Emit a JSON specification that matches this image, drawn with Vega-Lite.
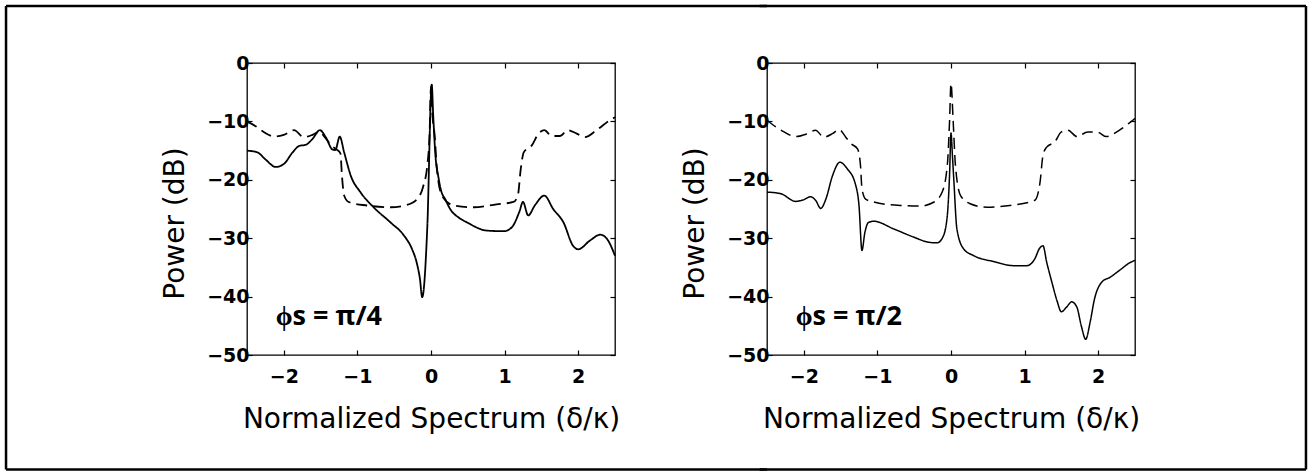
{
  "$schema": "https://vega.github.io/schema/vega-lite/v6.json",
  "background": "white",
  "padding": {"left": 4, "top": 4, "right": 2, "bottom": 2},
  "autosize": {"type": "pad"},
  "bounds": "flush",
  "spacing": 152,
  "config": {
    "view": {"stroke": "black", "strokeWidth": 1.3},
    "axis": {
      "domain": false, "grid": false,
      "tickColor": "black", "tickSize": -5, "tickWidth": 1.2,
      "labelFont": "DejaVu Sans", "labelFontWeight": "bold", "labelFontSize": 19, "labelColor": "black",
      "titleFont": "DejaVu Sans", "titleFontSize": 28, "titleFontWeight": "normal", "titleColor": "black"
    }
  },
  "datasets": {
    "curves": [
      {"p":"L","s":"solid","x":-2.5,"y":-15.0},{"p":"L","s":"solid","x":-2.36,"y":-15.3},{"p":"L","s":"solid","x":-2.25,"y":-16.5},{"p":"L","s":"solid","x":-2.11,"y":-17.8},{"p":"L","s":"solid","x":-2.0,"y":-17.3},{"p":"L","s":"solid","x":-1.88,"y":-15.3},{"p":"L","s":"solid","x":-1.79,"y":-14.2},{"p":"L","s":"solid","x":-1.7,"y":-14.0},{"p":"L","s":"solid","x":-1.61,"y":-13.0},{"p":"L","s":"solid","x":-1.51,"y":-11.5},{"p":"L","s":"solid","x":-1.43,"y":-12.7},{"p":"L","s":"solid","x":-1.34,"y":-14.8},{"p":"L","s":"solid","x":-1.3,"y":-14.9},{"p":"L","s":"solid","x":-1.24,"y":-12.6},{"p":"L","s":"solid","x":-1.18,"y":-15.3},{"p":"L","s":"solid","x":-1.09,"y":-19.3},{"p":"L","s":"solid","x":-0.96,"y":-22.1},{"p":"L","s":"solid","x":-0.78,"y":-24.7},{"p":"L","s":"solid","x":-0.55,"y":-27.3},{"p":"L","s":"solid","x":-0.37,"y":-29.5},{"p":"L","s":"solid","x":-0.26,"y":-31.8},{"p":"L","s":"solid","x":-0.19,"y":-34.4},{"p":"L","s":"solid","x":-0.15,"y":-37.0},{"p":"L","s":"solid","x":-0.12,"y":-40.1},{"p":"L","s":"solid","x":-0.05,"y":-28.0},{"p":"L","s":"solid","x":0.01,"y":-3.7},{"p":"L","s":"solid","x":0.03,"y":-9.0},{"p":"L","s":"solid","x":0.06,"y":-15.8},{"p":"L","s":"solid","x":0.1,"y":-19.5},{"p":"L","s":"solid","x":0.13,"y":-21.5},{"p":"L","s":"solid","x":0.2,"y":-23.5},{"p":"L","s":"solid","x":0.26,"y":-25.0},{"p":"L","s":"solid","x":0.38,"y":-26.5},{"p":"L","s":"solid","x":0.49,"y":-27.3},{"p":"L","s":"solid","x":0.76,"y":-28.7},{"p":"L","s":"solid","x":0.99,"y":-28.8},{"p":"L","s":"solid","x":1.1,"y":-28.1},{"p":"L","s":"solid","x":1.2,"y":-25.5},{"p":"L","s":"solid","x":1.25,"y":-23.8},{"p":"L","s":"solid","x":1.32,"y":-26.1},{"p":"L","s":"solid","x":1.41,"y":-24.4},{"p":"L","s":"solid","x":1.54,"y":-22.7},{"p":"L","s":"solid","x":1.66,"y":-25.0},{"p":"L","s":"solid","x":1.8,"y":-27.3},{"p":"L","s":"solid","x":1.93,"y":-31.3},{"p":"L","s":"solid","x":2.0,"y":-31.9},{"p":"L","s":"solid","x":2.16,"y":-30.4},{"p":"L","s":"solid","x":2.3,"y":-29.4},{"p":"L","s":"solid","x":2.39,"y":-30.1},{"p":"L","s":"solid","x":2.5,"y":-33.0},
      {"p":"L","s":"dashed","x":-2.5,"y":-10.0},{"p":"L","s":"dashed","x":-2.36,"y":-11.0},{"p":"L","s":"dashed","x":-2.25,"y":-12.0},{"p":"L","s":"dashed","x":-2.13,"y":-12.6},{"p":"L","s":"dashed","x":-2.0,"y":-12.3},{"p":"L","s":"dashed","x":-1.86,"y":-11.5},{"p":"L","s":"dashed","x":-1.73,"y":-12.7},{"p":"L","s":"dashed","x":-1.61,"y":-12.3},{"p":"L","s":"dashed","x":-1.52,"y":-11.8},{"p":"L","s":"dashed","x":-1.43,"y":-12.9},{"p":"L","s":"dashed","x":-1.35,"y":-14.2},{"p":"L","s":"dashed","x":-1.27,"y":-14.9},{"p":"L","s":"dashed","x":-1.23,"y":-15.5},{"p":"L","s":"dashed","x":-1.21,"y":-19.3},{"p":"L","s":"dashed","x":-1.18,"y":-22.7},{"p":"L","s":"dashed","x":-1.12,"y":-23.8},{"p":"L","s":"dashed","x":-0.87,"y":-24.4},{"p":"L","s":"dashed","x":-0.55,"y":-24.7},{"p":"L","s":"dashed","x":-0.33,"y":-24.3},{"p":"L","s":"dashed","x":-0.19,"y":-23.3},{"p":"L","s":"dashed","x":-0.11,"y":-21.3},{"p":"L","s":"dashed","x":-0.05,"y":-17.5},{"p":"L","s":"dashed","x":-0.02,"y":-12.4},{"p":"L","s":"dashed","x":0.0,"y":-4.0},{"p":"L","s":"dashed","x":0.02,"y":-9.0},{"p":"L","s":"dashed","x":0.05,"y":-12.4},{"p":"L","s":"dashed","x":0.08,"y":-18.1},{"p":"L","s":"dashed","x":0.15,"y":-22.7},{"p":"L","s":"dashed","x":0.31,"y":-24.4},{"p":"L","s":"dashed","x":0.58,"y":-24.7},{"p":"L","s":"dashed","x":0.89,"y":-24.2},{"p":"L","s":"dashed","x":1.12,"y":-23.8},{"p":"L","s":"dashed","x":1.18,"y":-22.7},{"p":"L","s":"dashed","x":1.22,"y":-18.1},{"p":"L","s":"dashed","x":1.26,"y":-15.3},{"p":"L","s":"dashed","x":1.37,"y":-14.1},{"p":"L","s":"dashed","x":1.46,"y":-12.1},{"p":"L","s":"dashed","x":1.54,"y":-11.5},{"p":"L","s":"dashed","x":1.64,"y":-12.5},{"p":"L","s":"dashed","x":1.75,"y":-12.5},{"p":"L","s":"dashed","x":1.86,"y":-11.5},{"p":"L","s":"dashed","x":1.98,"y":-12.1},{"p":"L","s":"dashed","x":2.09,"y":-12.7},{"p":"L","s":"dashed","x":2.25,"y":-11.5},{"p":"L","s":"dashed","x":2.43,"y":-9.8},{"p":"L","s":"dashed","x":2.5,"y":-9.3},
      {"p":"R","s":"dashed","x":-2.5,"y":-9.8},{"p":"R","s":"dashed","x":-2.31,"y":-11.5},{"p":"R","s":"dashed","x":-2.11,"y":-12.6},{"p":"R","s":"dashed","x":-1.95,"y":-12.1},{"p":"R","s":"dashed","x":-1.84,"y":-11.5},{"p":"R","s":"dashed","x":-1.73,"y":-12.7},{"p":"R","s":"dashed","x":-1.61,"y":-12.1},{"p":"R","s":"dashed","x":-1.52,"y":-11.4},{"p":"R","s":"dashed","x":-1.43,"y":-12.7},{"p":"R","s":"dashed","x":-1.36,"y":-13.8},{"p":"R","s":"dashed","x":-1.27,"y":-14.7},{"p":"R","s":"dashed","x":-1.23,"y":-17.5},{"p":"R","s":"dashed","x":-1.21,"y":-21.5},{"p":"R","s":"dashed","x":-1.16,"y":-23.3},{"p":"R","s":"dashed","x":-1.05,"y":-23.8},{"p":"R","s":"dashed","x":-0.69,"y":-24.4},{"p":"R","s":"dashed","x":-0.42,"y":-24.5},{"p":"R","s":"dashed","x":-0.23,"y":-23.8},{"p":"R","s":"dashed","x":-0.12,"y":-22.1},{"p":"R","s":"dashed","x":-0.05,"y":-17.5},{"p":"R","s":"dashed","x":-0.02,"y":-10.1},{"p":"R","s":"dashed","x":0.0,"y":-3.5},{"p":"R","s":"dashed","x":0.03,"y":-10.1},{"p":"R","s":"dashed","x":0.06,"y":-17.5},{"p":"R","s":"dashed","x":0.13,"y":-22.7},{"p":"R","s":"dashed","x":0.26,"y":-24.1},{"p":"R","s":"dashed","x":0.49,"y":-24.7},{"p":"R","s":"dashed","x":0.8,"y":-24.4},{"p":"R","s":"dashed","x":1.14,"y":-23.5},{"p":"R","s":"dashed","x":1.21,"y":-20.4},{"p":"R","s":"dashed","x":1.25,"y":-15.8},{"p":"R","s":"dashed","x":1.3,"y":-14.4},{"p":"R","s":"dashed","x":1.41,"y":-13.5},{"p":"R","s":"dashed","x":1.5,"y":-11.8},{"p":"R","s":"dashed","x":1.59,"y":-11.5},{"p":"R","s":"dashed","x":1.71,"y":-12.6},{"p":"R","s":"dashed","x":1.86,"y":-11.8},{"p":"R","s":"dashed","x":2.0,"y":-11.9},{"p":"R","s":"dashed","x":2.11,"y":-12.6},{"p":"R","s":"dashed","x":2.29,"y":-11.5},{"p":"R","s":"dashed","x":2.47,"y":-9.8},{"p":"R","s":"dashed","x":2.5,"y":-9.5},
      {"p":"R","s":"solid","x":-2.5,"y":-22.1},{"p":"R","s":"solid","x":-2.31,"y":-22.4},{"p":"R","s":"solid","x":-2.11,"y":-23.7},{"p":"R","s":"solid","x":-2.0,"y":-23.4},{"p":"R","s":"solid","x":-1.91,"y":-22.9},{"p":"R","s":"solid","x":-1.84,"y":-23.5},{"p":"R","s":"solid","x":-1.77,"y":-24.9},{"p":"R","s":"solid","x":-1.7,"y":-23.3},{"p":"R","s":"solid","x":-1.61,"y":-19.3},{"p":"R","s":"solid","x":-1.51,"y":-17.0},{"p":"R","s":"solid","x":-1.41,"y":-18.1},{"p":"R","s":"solid","x":-1.3,"y":-20.7},{"p":"R","s":"solid","x":-1.25,"y":-24.4},{"p":"R","s":"solid","x":-1.21,"y":-32.1},{"p":"R","s":"solid","x":-1.17,"y":-29.0},{"p":"R","s":"solid","x":-1.12,"y":-27.3},{"p":"R","s":"solid","x":-1.05,"y":-27.1},{"p":"R","s":"solid","x":-0.78,"y":-28.4},{"p":"R","s":"solid","x":-0.51,"y":-29.8},{"p":"R","s":"solid","x":-0.3,"y":-30.7},{"p":"R","s":"solid","x":-0.19,"y":-30.8},{"p":"R","s":"solid","x":-0.11,"y":-29.8},{"p":"R","s":"solid","x":-0.05,"y":-26.1},{"p":"R","s":"solid","x":-0.02,"y":-19.3},{"p":"R","s":"solid","x":0.0,"y":-12.0},{"p":"R","s":"solid","x":0.02,"y":-16.0},{"p":"R","s":"solid","x":0.04,"y":-20.4},{"p":"R","s":"solid","x":0.08,"y":-28.4},{"p":"R","s":"solid","x":0.17,"y":-31.8},{"p":"R","s":"solid","x":0.31,"y":-33.0},{"p":"R","s":"solid","x":0.58,"y":-34.0},{"p":"R","s":"solid","x":0.85,"y":-34.7},{"p":"R","s":"solid","x":1.03,"y":-34.7},{"p":"R","s":"solid","x":1.14,"y":-33.5},{"p":"R","s":"solid","x":1.2,"y":-31.8},{"p":"R","s":"solid","x":1.25,"y":-31.3},{"p":"R","s":"solid","x":1.3,"y":-34.1},{"p":"R","s":"solid","x":1.37,"y":-37.5},{"p":"R","s":"solid","x":1.44,"y":-40.7},{"p":"R","s":"solid","x":1.5,"y":-42.6},{"p":"R","s":"solid","x":1.57,"y":-41.8},{"p":"R","s":"solid","x":1.64,"y":-40.9},{"p":"R","s":"solid","x":1.71,"y":-41.8},{"p":"R","s":"solid","x":1.77,"y":-45.0},{"p":"R","s":"solid","x":1.83,"y":-47.3},{"p":"R","s":"solid","x":1.89,"y":-44.4},{"p":"R","s":"solid","x":1.95,"y":-40.4},{"p":"R","s":"solid","x":2.05,"y":-37.5},{"p":"R","s":"solid","x":2.16,"y":-36.7},{"p":"R","s":"solid","x":2.29,"y":-35.5},{"p":"R","s":"solid","x":2.43,"y":-34.2},{"p":"R","s":"solid","x":2.5,"y":-33.8}
    ]
  },
  "hconcat": [
    {
      "width": 368, "height": 292,
      "resolve": {"axis": {"x": "independent", "y": "independent"}},
      "layer": [
        {
          "data": {"name": "curves"},
          "transform": [{"filter": "datum.p === 'L'"}],
          "mark": {"type": "line", "interpolate": "monotone", "color": "black", "strokeWidth": 1.8},
          "encoding": {
            "x": {"field": "x", "type": "quantitative", "scale": {"domain": [-2.5, 2.5], "nice": false, "zero": false}, "axis": {"orient": "bottom", "values": [-2, -1, 0, 1, 2], "labelPadding": 17, "titlePadding": 19}, "title": "Normalized Spectrum (δ/κ)"},
            "y": {"field": "y", "type": "quantitative", "scale": {"domain": [-50, 0], "nice": false, "zero": false}, "axis": {"orient": "left", "values": [0, -10, -20, -30, -40, -50], "labelPadding": 3, "titlePadding": 17, "titleY": 160}, "title": "Power (dB)"},
            "strokeDash": {"field": "s", "type": "nominal", "scale": {"domain": ["solid", "dashed"], "range": [[1, 0], [11, 6]]}, "legend": null}
          }
        },
        {
          "data": {"values": [{"label": "ϕs = π/4"}]},
          "mark": {"type": "text", "align": "left", "baseline": "alphabetic", "font": "Open Sans", "fontSize": 27, "fontWeight": "bold", "color": "black"},
          "encoding": {
            "x": {"datum": -2.11, "type": "quantitative", "scale": {"domain": [-2.5, 2.5], "nice": false, "zero": false}, "axis": {"orient": "top", "labels": false, "title": null, "values": [-2, -1, 0, 1, 2]}},
            "y": {"datum": -44.9, "type": "quantitative", "scale": {"domain": [-50, 0], "nice": false, "zero": false}, "axis": {"orient": "right", "labels": false, "title": null, "values": [0, -10, -20, -30, -40, -50]}},
            "text": {"field": "label"}
          }
        },
        {
          "data": {"values": [{}]},
          "mark": {"type": "rule", "color": "black", "strokeWidth": 2.5},
          "encoding": {
            "x": {"datum": -5.774, "type": "quantitative", "scale": {"domain": [-2.5, 2.5], "nice": false, "zero": false}, "axis": null},
            "y": {"datum": 9.76, "type": "quantitative", "scale": {"domain": [-50, 0], "nice": false, "zero": false}, "axis": null},
            "y2": {"datum": -69.6}
          }
        },
        {
          "data": {"values": [{}]},
          "mark": {"type": "rule", "color": "black", "strokeWidth": 2.5},
          "encoding": {
            "x": {"datum": -5.774, "type": "quantitative", "scale": {"domain": [-2.5, 2.5], "nice": false, "zero": false}, "axis": null},
            "x2": {"datum": 4.565},
            "y": {"datum": 9.76, "type": "quantitative", "scale": {"domain": [-50, 0], "nice": false, "zero": false}, "axis": null}
          }
        },
        {
          "data": {"values": [{}]},
          "mark": {"type": "rule", "color": "black", "strokeWidth": 2.5},
          "encoding": {
            "x": {"datum": -5.774, "type": "quantitative", "scale": {"domain": [-2.5, 2.5], "nice": false, "zero": false}, "axis": null},
            "x2": {"datum": 4.565},
            "y": {"datum": -69.6, "type": "quantitative", "scale": {"domain": [-50, 0], "nice": false, "zero": false}, "axis": null}
          }
        }
      ]
    },
    {
      "width": 368, "height": 292,
      "resolve": {"axis": {"x": "independent", "y": "independent"}},
      "layer": [
        {
          "data": {"name": "curves"},
          "transform": [{"filter": "datum.p === 'R'"}],
          "mark": {"type": "line", "interpolate": "monotone", "color": "black", "strokeWidth": 1.5},
          "encoding": {
            "x": {"field": "x", "type": "quantitative", "scale": {"domain": [-2.5, 2.5], "nice": false, "zero": false}, "axis": {"orient": "bottom", "values": [-2, -1, 0, 1, 2], "labelPadding": 17, "titlePadding": 19}, "title": "Normalized Spectrum (δ/κ)"},
            "y": {"field": "y", "type": "quantitative", "scale": {"domain": [-50, 0], "nice": false, "zero": false}, "axis": {"orient": "left", "values": [0, -10, -20, -30, -40, -50], "labelPadding": 3, "titlePadding": 17, "titleY": 160}, "title": "Power (dB)"},
            "strokeDash": {"field": "s", "type": "nominal", "scale": {"domain": ["solid", "dashed"], "range": [[1, 0], [11, 6]]}, "legend": null}
          }
        },
        {
          "data": {"values": [{"label": "ϕs = π/2"}]},
          "mark": {"type": "text", "align": "left", "baseline": "alphabetic", "font": "Open Sans", "fontSize": 27, "fontWeight": "bold", "color": "black"},
          "encoding": {
            "x": {"datum": -2.11, "type": "quantitative", "scale": {"domain": [-2.5, 2.5], "nice": false, "zero": false}, "axis": {"orient": "top", "labels": false, "title": null, "values": [-2, -1, 0, 1, 2]}},
            "y": {"datum": -44.9, "type": "quantitative", "scale": {"domain": [-50, 0], "nice": false, "zero": false}, "axis": {"orient": "right", "labels": false, "title": null, "values": [0, -10, -20, -30, -40, -50]}},
            "text": {"field": "label"}
          }
        },
        {
          "data": {"values": [{}]},
          "mark": {"type": "rule", "color": "black", "strokeWidth": 2.5},
          "encoding": {
            "x": {"datum": 4.823, "type": "quantitative", "scale": {"domain": [-2.5, 2.5], "nice": false, "zero": false}, "axis": null},
            "y": {"datum": 9.76, "type": "quantitative", "scale": {"domain": [-50, 0], "nice": false, "zero": false}, "axis": null},
            "y2": {"datum": -69.6}
          }
        },
        {
          "data": {"values": [{}]},
          "mark": {"type": "rule", "color": "black", "strokeWidth": 2.5},
          "encoding": {
            "x": {"datum": -2.6, "type": "quantitative", "scale": {"domain": [-2.5, 2.5], "nice": false, "zero": false}, "axis": null},
            "x2": {"datum": 4.823},
            "y": {"datum": 9.76, "type": "quantitative", "scale": {"domain": [-50, 0], "nice": false, "zero": false}, "axis": null}
          }
        },
        {
          "data": {"values": [{}]},
          "mark": {"type": "rule", "color": "black", "strokeWidth": 2.5},
          "encoding": {
            "x": {"datum": -2.6, "type": "quantitative", "scale": {"domain": [-2.5, 2.5], "nice": false, "zero": false}, "axis": null},
            "x2": {"datum": 4.823},
            "y": {"datum": -69.6, "type": "quantitative", "scale": {"domain": [-50, 0], "nice": false, "zero": false}, "axis": null}
          }
        }
      ]
    }
  ]
}
